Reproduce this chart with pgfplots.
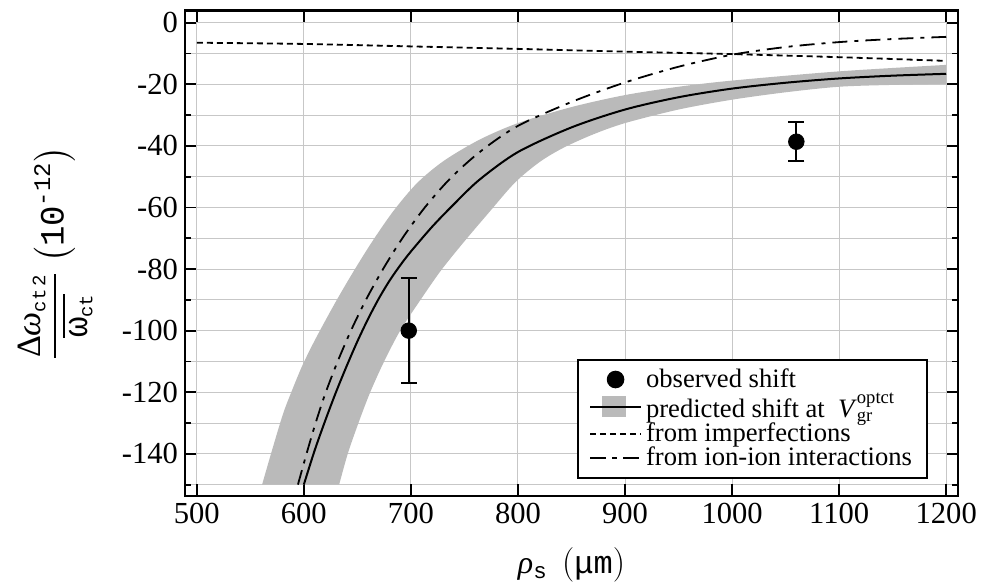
\documentclass[border=0pt]{standalone}
\usepackage{amsmath}
\usepackage{fontspec}
\setmainfont{Liberation Serif}
\setmonofont{Liberation Mono}
\usepackage{pgfplots}
\usepgfplotslibrary{fillbetween}
\pgfplotsset{compat=1.18}
\definecolor{bandgray}{gray}{0.73}
\definecolor{gridgray}{gray}{0.78}
\begin{document}
\begin{tikzpicture}
\begin{axis}[
  name=ax,
  scale only axis, width=386.5pt, height=242.65pt,
  xmin=489, xmax=1211, ymin=-153.7, ymax=3.9,
  xtick={500,600,...,1200}, ytick={-140,-120,...,0},
  minor ytick={-150,-130,...,-10},
  grid=both,
  major grid style={gridgray, line width=0.5pt},
  minor grid style={gridgray, line width=0.5pt},
  tick align=inside, major tick length=5.75pt, minor tick length=3.2pt,
  tick style={black, line width=0.9pt},
  axis line style={line width=1.3pt},
  ticklabel style={font=\fontsize{15.3}{17}\selectfont},
  /pgf/number format/assume math mode=true,
  /pgf/number format/1000 sep={},
  xlabel={\fontsize{16}{18}\selectfont \textit{ρ}\(_{\text{\ttfamily s}}\)\hspace{0.45em}\(\left(\text{\ttfamily μm}\right)\)},
  xlabel style={at={(axis description cs:0.5,-0.142)}, anchor=center},
  ylabel={\fontsize{17}{19}\selectfont \(\dfrac{\text{Δ\textit{ω}}_{\text{\fontsize{9.5}{10}\selectfont\ttfamily ct\,2}}}{\overline{\text{\ttfamily ω}_{\text{\fontsize{9.5}{10}\selectfont\ttfamily ct}}}}\)\hspace{0.25em}\(\left(\text{\ttfamily 10}^{\text{\ttfamily -12}}\right)\)},
  ylabel style={at={(axis description cs:-0.168,0.5)}, anchor=center},
  legend style={at={(1,0)}, anchor=south east, xshift=-15pt, yshift=8.5pt,
    draw=black, line width=1pt, font=\fontsize{13.3}{14}\selectfont,
    legend cell align=left, inner xsep=5.5pt, inner ysep=2.5pt, row sep=-2.7pt},
]
\addlegendimage{legend image code/.code={\fill[black] (12.75pt,0pt) circle (3.9pt);}}
\addlegendentry{observed shift}
\addlegendimage{legend image code/.code={\fill[bandgray] (6.5pt,-4.75pt) rectangle (17.5pt,4.75pt); \draw[black,line width=1pt] (0pt,0pt)--(25.5pt,0pt);}}
\addlegendentry{predicted shift at~~\textit{V}\(^{\text{optct}}_{\text{gr}}\)}
\addlegendimage{legend image code/.code={\draw[black,line width=0.9pt,dash pattern=on 3pt off 2pt] (0pt,0pt)--(25.5pt,0pt);}}
\addlegendentry{from imperfections}
\addlegendimage{legend image code/.code={\draw[black,line width=0.9pt,dash pattern=on 8pt off 3pt on 2.5pt off 3pt] (0pt,0pt)--(25.5pt,0pt);}}
\addlegendentry{from ion-ion interactions}

% uncertainty band edges
\addplot[name path=up, draw=none, smooth, forget plot] coordinates {
(561,-150) (571,-138) (581,-126.6) (590,-118.5) (598,-111.8) (606,-106) (615,-100) (630,-90.5) (646,-81) (664,-71) (684,-61) (706,-52) (731,-44.8) (764,-38) (800,-32.6) (850,-27.4) (900,-23.5) (950,-20.8) (1000,-18.8) (1100,-15.8) (1200,-13.7)
};
\addplot[name path=lo, draw=none, smooth, forget plot] coordinates {
(633,-150) (641,-140) (651,-130) (662,-120) (675,-110) (690,-100) (708,-90.5) (728,-80.5) (750,-71) (772,-62) (797,-52) (820,-45.3) (842,-40.7) (870,-36.3) (900,-32.6) (950,-28.2) (1000,-25) (1050,-22.6) (1100,-20.8) (1150,-20.2) (1200,-19.9)
};
\addplot[bandgray, forget plot] fill between[of=up and lo];

% predicted shift
\addplot[black, line width=1pt, smooth, forget plot] coordinates {
(600,-150) (610,-139) (620,-129.2) (630,-120) (640,-111.5) (650,-103.5) (660,-96.2) (670,-89.6) (680,-83.8) (690,-78.8) (700,-74.3) (720,-66.2) (740,-59) (764,-51) (800,-42) (850,-34) (900,-28.2) (950,-24.2) (1000,-21.4) (1050,-19.5) (1100,-18.1) (1150,-17.2) (1200,-16.6)
};

% from imperfections
\addplot[black, line width=0.9pt, dash pattern=on 3pt off 2pt, smooth, forget plot] coordinates {
(500,-6.5) (600,-6.9) (700,-7.7) (800,-8.5) (900,-9.4) (1000,-10.2) (1100,-11.2) (1200,-12.4)
};

% from ion-ion interactions
\addplot[black, line width=0.9pt, dash pattern=on 7.5pt off 3.5pt on 2pt off 3.5pt, smooth, forget plot] coordinates {
(594.5,-150) (602.5,-140) (611,-130) (620,-120.5) (631,-110.5) (644,-100) (658,-90) (674,-80) (692,-70) (713,-60) (737,-50.5) (765,-41.8) (800,-33.5) (851,-25.6) (900,-19.4) (950,-14.3) (1000,-10.4) (1050,-7.9) (1100,-6.3) (1150,-5.3) (1200,-4.6)
};

% observed shift
\addplot[only marks, mark=*, mark size=3.9pt, black, forget plot,
  error bars/.cd, y dir=both, y explicit,
  error bar style={line width=1pt, black},
  error mark options={rotate=90, mark size=4pt, line width=1pt, black}]
coordinates {
(698,-100) +- (0,17)
(1060,-38.65) +- (0,6.35)
};
\end{axis}
\pgfresetboundingbox
\path[use as bounding box] ([xshift=-92.5pt,yshift=-43.5pt]ax.south west) rectangle ([xshift=11.5pt,yshift=5.35pt]ax.north east);
\end{tikzpicture}
\end{document}
